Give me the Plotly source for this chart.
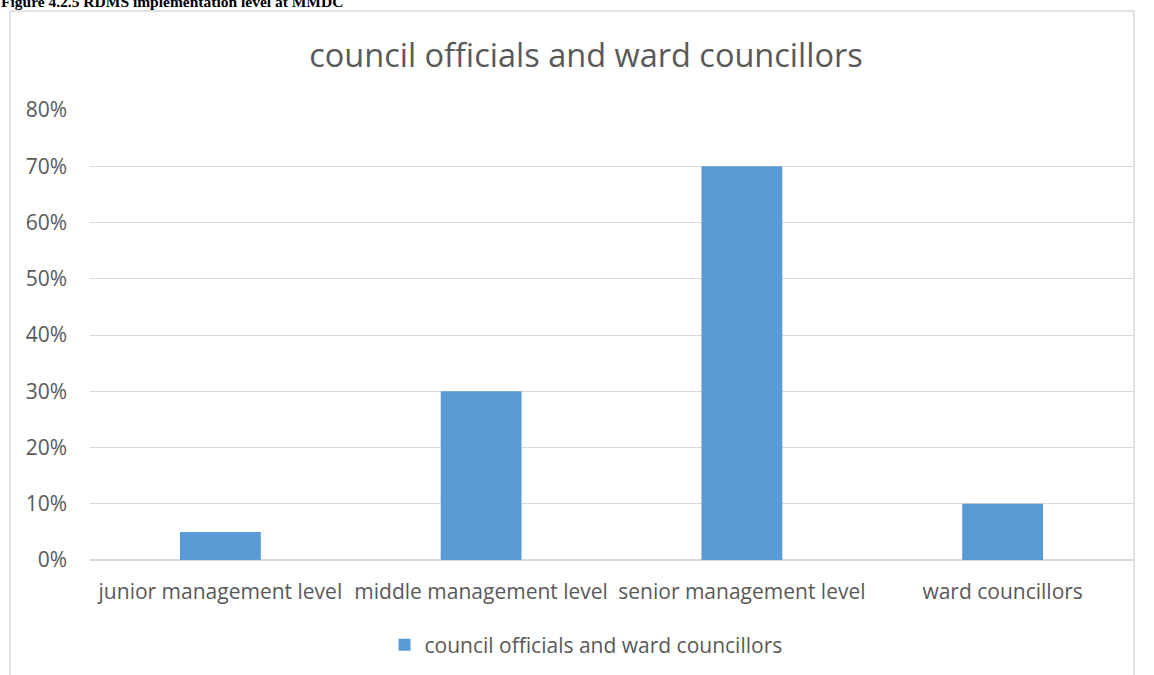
import plotly.graph_objects as go

categories = ["junior management level", "middle management level", "senior management level", "ward councillors"]
values = [0.05, 0.30, 0.70, 0.10]
series_name = "council officials and ward councillors"
chart_title = "council officials and ward councillors"
header_text = "Figure 4.2.5 RDMS implementation level at MMDC"
tick_vals = [0, 0.1, 0.2, 0.3, 0.4, 0.5, 0.6, 0.7, 0.8]
tick_text = ["0%", "10%", "20%", "30%", "40%", "50%", "60%", "70%", "80%"]

W, H = 1154, 675
L, R, T, B = 90, 21, 110, 115
pw, ph = W - L - R, H - T - B

def px_x(x):
    return (x - L) / pw

def px_y(y):
    return (H - B - y) / ph

font_family = "'Open Sans', Lato, sans-serif"
grey = "#595959"

fig = go.Figure()
fig.add_trace(go.Bar(
    x=categories, y=values, name=series_name,
    marker=dict(color="#5b9bd5", line=dict(width=0)),
))

fig.update_layout(
    width=W, height=H,
    margin=dict(l=L, r=R, t=T, b=B, autoexpand=False),
    paper_bgcolor="white", plot_bgcolor="white",
    bargap=0.69,
    font=dict(family=font_family, color=grey, size=21),
    title=dict(text=chart_title, xref="container", x=586 / W, xanchor="center",
               yref="container", y=1 - 56 / H, yanchor="middle",
               font=dict(size=32.5, color=grey, family=font_family)),
    showlegend=True,
    legend=dict(orientation="h", x=px_x(586), xanchor="center", xref="paper",
                y=px_y(645), yanchor="middle", font=dict(size=21, color=grey),
                itemwidth=30, bgcolor="rgba(0,0,0,0)"),
    xaxis=dict(showgrid=False, showline=False, ticks="", tickfont=dict(size=21, color=grey),
               ticklabelstandoff=17),
    yaxis=dict(range=[0, 0.8], tickvals=tick_vals, ticktext=tick_text, showgrid=True,
               gridcolor="#d9d9d9", gridwidth=1, zeroline=True, zerolinecolor="#d9d9d9",
               showline=False, ticks="", tickfont=dict(size=21, color=grey), ticklabelstandoff=22),
    shapes=[dict(type="rect", xref="paper", yref="paper",
                 x0=px_x(10), x1=px_x(1134), y0=px_y(690), y1=px_y(11),
                 line=dict(color="#d9d9d9", width=1.5), fillcolor="rgba(0,0,0,0)", layer="below")],
    annotations=[dict(text="<b>" + header_text + "</b>", xref="paper", yref="paper",
                      x=px_x(-1), y=px_y(1), xanchor="left", yanchor="middle", showarrow=False,
                      font=dict(family="'Liberation Serif', 'Times New Roman', serif", size=15.5, color="black"))],
)

fig.write_html("out.html", config={"displayModeBar": False},
               post_script="document.body.style.margin='0';document.body.style.overflow='hidden';")
